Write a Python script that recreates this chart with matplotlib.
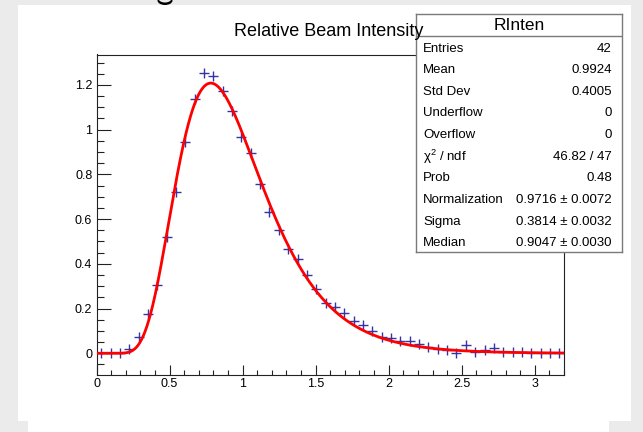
import numpy as np
import matplotlib
matplotlib.use("Agg")
import matplotlib.pyplot as plt
from matplotlib.patches import Rectangle, Ellipse
from matplotlib.ticker import MultipleLocator

plt.rcParams["font.family"] = ["Liberation Sans", "DejaVu Sans"]
plt.rcParams["mathtext.fontset"] = "custom"
plt.rcParams["mathtext.rm"] = "Liberation Sans"
plt.rcParams["mathtext.it"] = "Liberation Sans:italic"

# ---- histogram: 50 bins on [0, 3.2] ----
x_min, x_max, n_bins = 0.0, 3.2, 50
bin_contents = [
    0.000, 0.000, 0.000, 0.018, 0.075, 0.176, 0.306, 0.519, 0.721, 0.944,
    1.136, 1.252, 1.240, 1.173, 1.083, 0.968, 0.894, 0.758, 0.633, 0.551,
    0.465, 0.422, 0.350, 0.286, 0.226, 0.206, 0.179, 0.146, 0.127, 0.101,
    0.074, 0.068, 0.056, 0.055, 0.040, 0.030, 0.019, 0.015, 0.000, 0.037,
    0.005, 0.015, 0.022, 0.004, 0.004, 0.007, 0.000, 0.000, 0.000, 0.000,
]

# ---- log-normal fit result ----
fit_norm, fit_norm_err = 0.9716, 0.0072
fit_sigma, fit_sigma_err = 0.3814, 0.0032
fit_median, fit_median_err = 0.9047, 0.0030

stat_labels = ["Entries", "Mean", "Std Dev", "Underflow", "Overflow",
               "\u03c7$^{2}$ / ndf", "Prob", "Normalization", "Sigma", "Median"]
stat_values = ["42", "0.9924", "0.4005", "0", "0", "46.82 / 47", "0.48",
               f"{fit_norm:.4f} \u00b1 {fit_norm_err:.4f}",
               f"{fit_sigma:.4f} \u00b1 {fit_sigma_err:.4f}",
               f"{fit_median:.4f} \u00b1 {fit_median_err:.4f}"]

title = "Relative Beam Intensity"
stats_name = "RInten"

W, H = 643, 432
fig = plt.figure(figsize=(W / 100, H / 100), dpi=100)
fig.patch.set_facecolor("#ebebeb")

# canvas background in pixel units
bg = fig.add_axes([0, 0, 1, 1], zorder=-10)
bg.set_xlim(0, W)
bg.set_ylim(H, 0)
bg.axis("off")
bg.add_patch(Rectangle((18, 5), 613, 416, facecolor="white", edgecolor="none"))
bg.add_patch(Rectangle((28, 421), 581, 11, facecolor="white", edgecolor="none"))
bg.add_patch(Ellipse((165, 0.5), 15, 9, facecolor="black", edgecolor="none"))
bg.add_patch(Ellipse((165, -1.5), 13, 8, facecolor="#ebebeb", edgecolor="none"))


def px_axes(left, top, right, bottom, **kw):
    return fig.add_axes([left / W, (H - bottom) / H, (right - left) / W,
                         (bottom - top) / H], **kw)


# ---- main frame ----
ax = px_axes(96.5, 54.5, 564, 374.6, zorder=1)
ax.set_facecolor("none")

edges = np.linspace(x_min, x_max, n_bins + 1)
centers = 0.5 * (edges[:-1] + edges[1:])
ax.plot(centers, bin_contents, linestyle="none", marker="+",
        markersize=6.8, markeredgewidth=1.0, color="#3434a6", zorder=3)

xf = np.linspace(1e-4, x_max, 800)
yf = fit_norm / (xf * fit_sigma * np.sqrt(2 * np.pi)) * \
    np.exp(-np.log(xf / fit_median) ** 2 / (2 * fit_sigma ** 2))
ax.plot(xf, yf, color="#ff0000", linewidth=2.0, zorder=4)

ax.set_xlim(x_min, x_max)
ax.set_ylim(-0.0953, 1.336)
ax.xaxis.set_major_locator(MultipleLocator(0.5))
ax.xaxis.set_minor_locator(MultipleLocator(0.1))
ax.yaxis.set_major_locator(MultipleLocator(0.2))
ax.yaxis.set_minor_locator(MultipleLocator(0.05))
ax.xaxis.set_major_formatter(plt.FuncFormatter(lambda v, p: f"{v:g}"))
ax.yaxis.set_major_formatter(plt.FuncFormatter(lambda v, p: f"{v:g}"))
ax.tick_params(axis="both", which="both", direction="in", top=False,
               right=False, colors="#222222", labelcolor="black",
               labelsize=9, width=0.8)
ax.tick_params(axis="x", which="major", length=7, pad=2.5)
ax.tick_params(axis="x", which="minor", length=3.4)
ax.tick_params(axis="y", which="major", length=10.3, pad=3)
ax.tick_params(axis="y", which="minor", length=5.3)
for s in ax.spines.values():
    s.set_color("#222222")
    s.set_linewidth(0.8)

# ---- statistics box ----
bw, bh = 622 - 416, 252 - 14
sb = px_axes(416, 14, 622, 252, zorder=2)
sb.set_xlim(0, bw)
sb.set_ylim(bh, 0)
sb.set_xticks([])
sb.set_yticks([])
sb.set_facecolor("white")
for s in sb.spines.values():
    s.set_color("#7a7a7a")
    s.set_linewidth(1.0)
sb.axhline(22, color="#7a7a7a", linewidth=1.0)
sb.text(bw / 2, 11.5, stats_name, ha="center", va="center", fontsize=12.5)
row0, dy = 34.5, 21.65
for i, (lab, val) in enumerate(zip(stat_labels, stat_values)):
    yy = row0 + dy * i
    sb.text(7.3, yy, lab, ha="left", va="center", fontsize=9.5)
    sb.text(195.8, yy, val, ha="right", va="center", fontsize=9.5)

fig.text(329 / W, 1 - 32 / H, title, ha="center", va="center",
         fontsize=13, zorder=5)

fig.savefig("out.png", dpi=100, facecolor=fig.get_facecolor())
